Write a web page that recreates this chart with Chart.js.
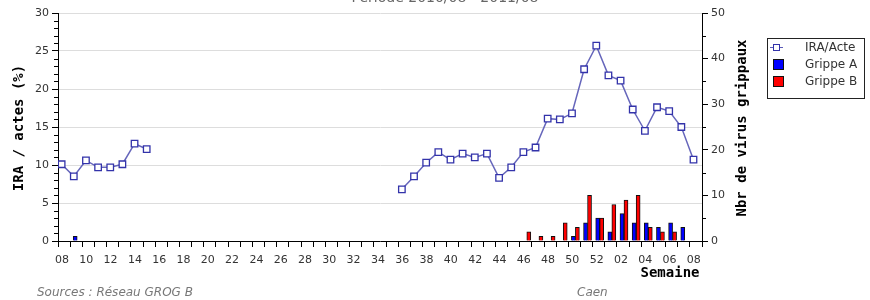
<!DOCTYPE html>
<html>
<head>
<meta charset="utf-8">
<script src="https://cdn.jsdelivr.net/npm/chart.js@4/dist/chart.umd.min.js"></script>
<style>
  body { margin: 0; background: #fff; }
  #wrap { width: 870px; height: 300px; }
</style>
</head>
<body>
<div id="wrap"><canvas id="myChart" width="870" height="300"></canvas></div>
<script>
// weeks 2010/08 -> 2011/08
const weeks = ['08','09','10','11','12','13','14','15','16','17','18','19','20','21','22','23','24','25',
    '26','27','28','29','30','31','32','33','34','35','36','37','38','39','40','41','42','43','44','45',
    '46','47','48','49','50','51','52','01','02','03','04','05','06','07','08'];

// IRA / actes (%)
const iraActe = [10.1, 8.5, 10.6, 9.7, 9.7, 10.1, 12.8, 12.1,
    null, null, null, null, null, null, null, null, null, null,
    null, null, null, null, null, null, null, null, null, null,
    6.8, 8.5, 10.3, 11.7, 10.7, 11.5, 11.0, 11.5, 8.3, 9.7,
    11.7, 12.3, 16.1, 16.0, 16.8, 22.6, 25.7,
    21.8, 21.1, 17.3, 14.5, 17.6, 17.1, 15.0, 10.7];

// Nbr de virus grippaux
const grippeA = [0, 1, 0, 0, 0, 0, 0, 0, 0, 0,
    0, 0, 0, 0, 0, 0, 0, 0, 0, 0,
    0, 0, 0, 0, 0, 0, 0, 0, 0, 0,
    0, 0, 0, 0, 0, 0, 0, 0, 0, 0,
    0, 0, 1, 4, 5, 2, 6, 4, 4, 3,
    4, 3, 0];
const grippeB = [0, 0, 0, 0, 0, 0, 0, 0, 0, 0,
    0, 0, 0, 0, 0, 0, 0, 0, 0, 0,
    0, 0, 0, 0, 0, 0, 0, 0, 0, 0,
    0, 0, 0, 0, 0, 0, 0, 0, 2, 1,
    1, 4, 3, 10, 5, 8, 9, 10, 3, 2,
    2, 0, 0];

const leftTicks = [0, 5, 10, 15, 20, 25, 30];
const rightTicks = [0, 10, 20, 30, 40, 50];

const tickFont = { family: 'DejaVu Sans', size: 11 };
const titleFont = 'bold 14px "DejaVu Sans Mono"';

const toPoints = arr => arr.map((v, i) => ({ x: i, y: v === 0 ? null : v }));

// minor ticks, axis titles, legend and texts
const extras = {
    id: 'extras',
    afterDraw(chart) {
        const ctx = chart.ctx;
        const y = chart.scales.y, y2 = chart.scales.y2, area = chart.chartArea;
        ctx.save();
        ctx.strokeStyle = '#000';
        ctx.lineWidth = 1;
        ctx.beginPath();
        for (let v = 0; v <= 30; v++) {
            if (leftTicks.includes(v)) continue;
            const p = Math.round(y.getPixelForValue(v)) + 0.5;
            ctx.moveTo(area.left - 4, p);
            ctx.lineTo(area.left, p);
        }
        for (let v = 5; v <= 50; v += 10) {
            const p = Math.round(y2.getPixelForValue(v)) + 0.5;
            ctx.moveTo(area.right, p);
            ctx.lineTo(area.right + 4, p);
        }
        ctx.stroke();

        // axis titles
        ctx.fillStyle = '#000';
        ctx.font = titleFont;
        ctx.textAlign = 'center';
        ctx.textBaseline = 'middle';
        ctx.save();
        ctx.translate(19, 128);
        ctx.rotate(-Math.PI / 2);
        ctx.fillText('IRA / actes (%)', 0, 0);
        ctx.restore();
        ctx.save();
        ctx.translate(742, 128);
        ctx.rotate(-Math.PI / 2);
        ctx.fillText('Nbr de virus grippaux', 0, 0);
        ctx.restore();
        ctx.fillText('Semaine', 670, 273);

        // title (cut at top)
        ctx.fillStyle = '#666';
        ctx.font = '14px "DejaVu Sans"';
        ctx.textBaseline = 'alphabetic';
        ctx.fillText('Période 2010/08 - 2011/08', 445, 2);

        // sources
        ctx.fillStyle = '#777';
        ctx.font = 'italic 12px "DejaVu Sans"';
        ctx.textAlign = 'left';
        ctx.fillText('Sources : Réseau GROG B', 37, 296);
        ctx.fillText('Caen', 577, 296);

        // legend
        ctx.fillStyle = '#fff';
        ctx.fillRect(767.5, 38.5, 97, 60);
        ctx.strokeStyle = '#222';
        ctx.strokeRect(767.5, 38.5, 97, 60);
        ctx.strokeStyle = '#5a5ab8';
        ctx.beginPath();
        ctx.moveTo(770, 47.5);
        ctx.lineTo(783, 47.5);
        ctx.stroke();
        ctx.fillStyle = '#fff';
        ctx.fillRect(773.5, 44.5, 6, 6);
        ctx.strokeStyle = '#3333aa';
        ctx.strokeRect(773.5, 44.5, 6, 6);
        ctx.fillStyle = '#0000ff';
        ctx.fillRect(773.5, 59.5, 10, 10);
        ctx.strokeStyle = '#111';
        ctx.strokeRect(773.5, 59.5, 10, 10);
        ctx.fillStyle = '#ff0000';
        ctx.fillRect(773.5, 76.5, 10, 10);
        ctx.strokeRect(773.5, 76.5, 10, 10);
        ctx.fillStyle = '#333';
        ctx.font = '12px "DejaVu Sans"';
        ctx.textBaseline = 'middle';
        ctx.fillText('IRA/Acte', 805, 48);
        ctx.fillText('Grippe A', 805, 65);
        ctx.fillText('Grippe B', 805, 82);
        ctx.restore();
    }
};

new Chart(document.getElementById('myChart').getContext('2d'), {
    type: 'bar',
    data: {
        datasets: [{
            type: 'line',
            label: 'IRA/Acte',
            data: iraActe.map((v, i) => ({ x: i, y: v })),
            xAxisID: 'x',
            yAxisID: 'y',
            borderColor: '#6666bb',
            borderWidth: 1.5,
            pointStyle: 'rect',
            pointRadius: 4.6,
            pointBorderColor: '#3333aa',
            pointBorderWidth: 1.3,
            pointBackgroundColor: '#fff',
            spanGaps: false,
            tension: 0,
            order: 0
        }, {
            label: 'Grippe A',
            data: toPoints(grippeA),
            xAxisID: 'xb',
            yAxisID: 'y2',
            backgroundColor: '#0000ff',
            borderColor: '#111',
            borderWidth: 1,
            borderSkipped: 'bottom',
            barThickness: 4,
            order: 1
        }, {
            label: 'Grippe B',
            data: toPoints(grippeB),
            xAxisID: 'xb',
            yAxisID: 'y2',
            backgroundColor: '#ff0000',
            borderColor: '#111',
            borderWidth: 1,
            borderSkipped: 'bottom',
            barThickness: 4,
            order: 1
        }]
    },
    options: {
        responsive: false,
        animation: false,
        layout: { padding: { top: 13 } },
        plugins: {
            legend: { display: false },
            tooltip: { enabled: false }
        },
        scales: {
            x: {
                type: 'linear',
                position: 'bottom',
                offset: false,
                min: -0.3,
                max: weeks.length - 0.3,
                afterBuildTicks: s => {
                    s.ticks = weeks.concat(['']).map((w, k) => ({ value: k - 0.3 }));
                },
                afterFit: s => { s.height = 59; },
                ticks: {
                    autoSkip: false,
                    maxRotation: 0,
                    labelOffset: 4,
                    padding: 7,
                    color: '#333',
                    font: tickFont,
                    callback: (v, i) => (i % 2 === 0 && i < weeks.length) ? weeks[i] : ''
                },
                grid: { offset: false, drawOnChartArea: false, tickLength: 6, tickColor: '#000' },
                border: { color: '#000', width: 1 }
            },
            xb: {
                type: 'linear',
                position: 'bottom',
                offset: false,
                min: -0.58,
                max: weeks.length - 0.58,
                afterFit: s => { s.height = 0; },
                ticks: { display: false },
                grid: { display: false, offset: false },
                border: { display: false }
            },
            y: {
                position: 'left',
                min: 0,
                max: 30,
                afterBuildTicks: s => {
                    s.ticks = leftTicks.map(v => ({ value: v }));
                },
                afterFit: s => { s.width = 58; },
                ticks: { color: '#333', font: tickFont, padding: 3 },
                grid: {
                    color: c => c.tick.value === 0 ? 'rgba(0,0,0,0)' : '#dddddd',
                    tickLength: 6,
                    tickColor: '#000'
                },
                border: { color: '#000', width: 1 }
            },
            y2: {
                position: 'right',
                min: 0,
                max: 50,
                afterBuildTicks: s => {
                    s.ticks = rightTicks.map(v => ({ value: v }));
                },
                afterFit: s => { s.width = 168; },
                ticks: { color: '#333', font: tickFont, padding: 3 },
                grid: { drawOnChartArea: false, tickLength: 6, tickColor: '#000' },
                border: { color: '#000', width: 1 }
            }
        }
    },
    plugins: [extras]
});
</script>
</body>
</html>
